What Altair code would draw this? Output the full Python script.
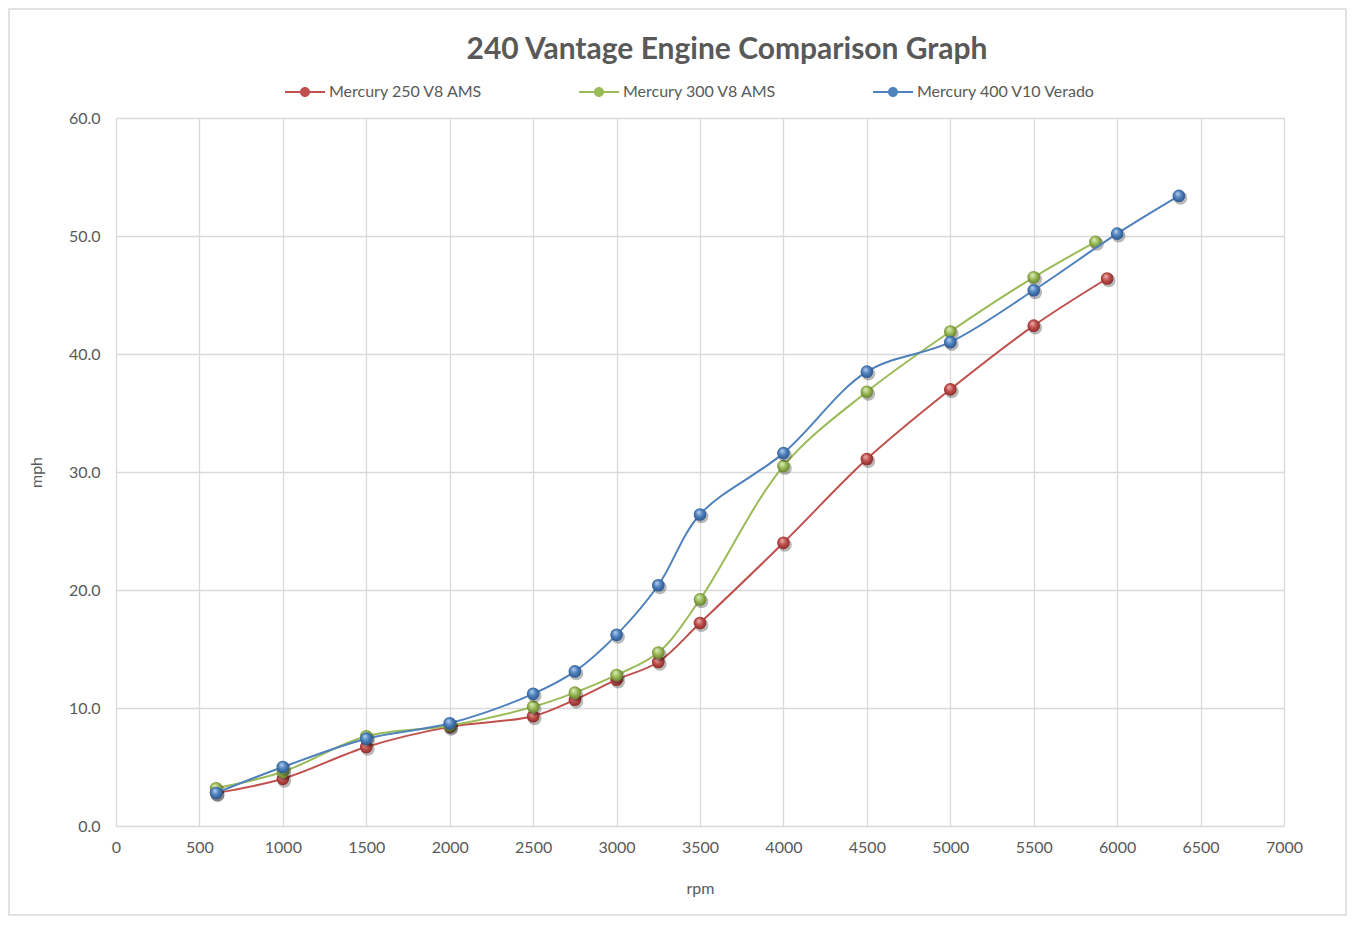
import altair as alt
import pandas as pd

series_names = ["Mercury 250 V8 AMS", "Mercury 300 V8 AMS", "Mercury 400 V10 Verado"]
series_colors = ["#C0504D", "#9BBB59", "#4F81BD"]
light_colors = ["#F2B8B6", "#E2F0C4", "#BBD3F0"]
dark_colors = ["#7A1F1C", "#55701F", "#1F4A7E"]

rpm_250 = [600, 1000, 1500, 2000, 2500, 2750, 3000, 3250, 3500, 4000, 4500, 5000, 5500, 5940]
mph_250 = [2.8, 4.0, 6.7, 8.4, 9.3, 10.7, 12.4, 13.9, 17.2, 24.0, 31.1, 37.0, 42.4, 46.4]

rpm_300 = [600, 1000, 1500, 2000, 2500, 2750, 3000, 3250, 3500, 4000, 4500, 5000, 5500, 5870]
mph_300 = [3.2, 4.6, 7.6, 8.5, 10.1, 11.3, 12.8, 14.7, 19.2, 30.5, 36.8, 41.9, 46.5, 49.5]

rpm_400 = [600, 1000, 1500, 2000, 2500, 2750, 3000, 3250, 3500, 4000, 4500, 5000, 5500, 6000, 6370]
mph_400 = [2.8, 5.0, 7.4, 8.7, 11.2, 13.1, 16.2, 20.4, 26.4, 31.6, 38.5, 41.0, 45.4, 50.2, 53.4]

x_ticks = list(range(0, 7001, 500))
y_ticks = [0, 10, 20, 30, 40, 50, 60]

rpms = [rpm_250, rpm_300, rpm_400]
mphs = [mph_250, mph_300, mph_400]

FONT = "Lato"
TXT = "#595959"
GRID = "#D9D9D9"

x_scale = alt.Scale(domain=[0, 7000], nice=False, zero=True)
y_scale = alt.Scale(domain=[0, 60], nice=False)
color_scale = alt.Scale(domain=series_names, range=series_colors)

legend_path = ("M-1,-0.05L1,-0.05L1,0.05L-1,0.05Z "
               "M-0.25,0A0.25,0.25 0 1,1 0.25,0A0.25,0.25 0 1,1 -0.25,0Z")

x_axis = alt.Axis(values=x_ticks, format="d", grid=True, gridColor=GRID, gridWidth=1.3,
                  domain=False, ticks=False, labelFontSize=16, labelColor=TXT,
                  labelFont=FONT, labelPadding=13, labelFlush=False, title="rpm",
                  titleFont=FONT, titleFontSize=16, titleFontWeight="normal",
                  titleColor=TXT, titlePadding=25)
y_axis = alt.Axis(values=y_ticks, format=".1f", grid=True, gridColor=GRID,
                  gridWidth=1.3, domain=False, ticks=False, labelFontSize=16,
                  labelColor=TXT, labelFont=FONT, labelPadding=16, labelFlush=False,
                  title="mph", titleFont=FONT, titleFontSize=16,
                  titleFontWeight="normal", titleColor=TXT, titlePadding=24)

legend = alt.Legend(
    title=None, orient="none", direction="horizontal", legendX=169, legendY=-46,
    symbolType=legend_path, symbolSize=1600, symbolStrokeWidth=0,
    symbolOpacity=1, columnPadding=96, labelFont=FONT, labelFontSize=16,
    labelColor=TXT, labelOffset=4, labelLimit=400,
)

frames = []
for i, name in enumerate(series_names):
    frames.append(pd.DataFrame({"rpm": rpms[i], "mph": mphs[i], "series": name}))
all_df = pd.concat(frames, ignore_index=True)

layers = []
frame = alt.Chart(pd.DataFrame({"a": [0]})).mark_rect(
    fill=None, stroke=GRID, strokeWidth=1.5
).encode(x=alt.value(-107), x2=alt.value(1230), y=alt.value(-109), y2=alt.value(797))
layers.append(frame)

legend_layer = alt.Chart(all_df).mark_circle(size=0).encode(
    x=alt.X("rpm:Q", scale=x_scale, axis=x_axis),
    y=alt.Y("mph:Q", scale=y_scale, axis=y_axis),
    color=alt.Color("series:N", scale=color_scale, legend=legend, sort=series_names),
)
layers.append(legend_layer)

for i, name in enumerate(series_names):
    base = alt.Chart(frames[i])
    line = base.mark_line(interpolate="catmull-rom", strokeWidth=2).encode(
        x="rpm:Q", y="mph:Q",
        color=alt.Color("series:N", scale=color_scale, legend=None),
    )
    shadow = base.mark_circle(size=190, color="#000000", opacity=0.28).encode(
        x="rpm:Q", y="mph:Q", xOffset=alt.value(1.5), yOffset=alt.value(2)
    )
    grad = alt.Gradient(
        gradient="radial", x1=0.38, y1=0.3, r1=0.0, x2=0.5, y2=0.5, r2=0.62,
        stops=[alt.GradientStop(color=light_colors[i], offset=0),
               alt.GradientStop(color=series_colors[i], offset=0.45),
               alt.GradientStop(color=dark_colors[i], offset=1)],
    )
    pts = base.mark_circle(size=160, fill=grad, opacity=1).encode(x="rpm:Q", y="mph:Q")
    layers += [line, shadow, pts]

chart = alt.layer(*layers).properties(
    width=1168, height=708,
    padding={"left": 108, "top": 110, "right": 63, "bottom": 90},
    autosize=alt.AutoSizeParams(type="none"),
    title=alt.TitleParams("240 Vantage Engine Comparison Graph", font=FONT,
                          fontSize=30, fontWeight="bold", color=TXT,
                          anchor="middle", frame="group", dx=27, offset=-57),
).configure_view(stroke=GRID, strokeWidth=1.3).configure(background="white")

chart.save("out.html", embed_options={"renderer": "svg", "actions": False})
